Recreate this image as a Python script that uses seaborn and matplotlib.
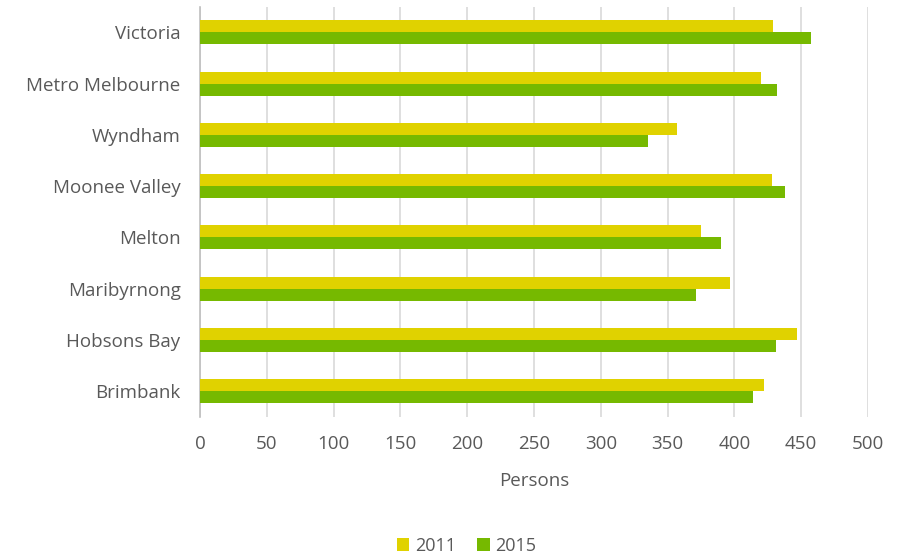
import matplotlib
matplotlib.use("Agg")
import matplotlib.pyplot as plt
import seaborn as sns
import pandas as pd

regions = ["Victoria", "Metro Melbourne", "Wyndham", "Moonee Valley",
           "Melton", "Maribyrnong", "Hobsons Bay", "Brimbank"]
persons_2011 = [429, 420, 357, 428, 375, 397, 447, 422]
persons_2015 = [457, 432, 335, 438, 390, 371, 431, 414]
years = ["2011", "2015"]
x_ticks = [0, 50, 100, 150, 200, 250, 300, 350, 400, 450, 500]

df = pd.DataFrame({
    "Region": regions * 2,
    "Year": [years[0]] * len(regions) + [years[1]] * len(regions),
    "Persons": persons_2011 + persons_2015,
})

sns.set_theme(style="white")
plt.rcParams["font.family"] = ["Open Sans", "DejaVu Sans"]

text_color = "#595959"
palette = {"2011": "#E0D200", "2015": "#76B900"}

fig = plt.figure(figsize=(9.04, 5.55), dpi=100)
ax = fig.add_axes([0.2212, 0.249, 0.7390, 0.7390])

sns.barplot(data=df, y="Region", x="Persons", hue="Year", order=regions,
            hue_order=years, palette=palette, orient="h", width=0.47,
            saturation=1, linewidth=0, ax=ax, zorder=3)

ax.set_xlim(0, 500)
ax.set_ylim(len(regions) - 0.5, -0.5)
ax.set_xticks(x_ticks)
ax.set_xticklabels([str(t) for t in x_ticks])
ax.xaxis.grid(True, color="#D9D9D9", linewidth=1.2, zorder=0)
ax.yaxis.grid(False)
for side in ["top", "right", "bottom"]:
    ax.spines[side].set_visible(False)
ax.spines["left"].set_color("#BFBFBF")
ax.spines["left"].set_linewidth(1.2)

ax.tick_params(axis="both", length=0, labelsize=13.5, colors=text_color)
ax.tick_params(axis="x", pad=13)
ax.tick_params(axis="y", pad=14)
ax.set_ylabel("")
ax.set_xlabel("Persons", fontsize=13.5, color=text_color, labelpad=14)

handles, labels = ax.get_legend_handles_labels()
ax.legend_.remove()
fig.legend(handles, labels, loc="center", bbox_to_anchor=(0.516, 0.017),
           ncol=2, frameon=False, fontsize=13, handlelength=0.7,
           handleheight=0.7, handletextpad=0.3, columnspacing=1.2,
           labelcolor=text_color)

fig.savefig("out.png", dpi=100)
